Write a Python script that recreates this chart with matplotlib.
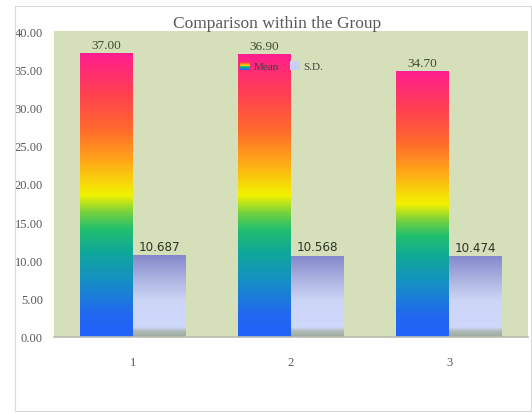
"""Grouped bar chart: group means and standard deviations with gradient fills."""

import matplotlib
matplotlib.use("Agg")
import matplotlib.pyplot as plt
import numpy as np
from matplotlib.colors import LinearSegmentedColormap
from matplotlib.legend_handler import HandlerBase
from matplotlib.patches import Rectangle

groups = ["1", "2", "3"]
mean_vals = [37.00, 36.90, 34.70]
sd_vals = [10.687, 10.568, 10.474]
mean_labels = ["37.00", "36.90", "34.70"]
sd_labels = ["10.687", "10.568", "10.474"]
y_ticks = [0, 5, 10, 15, 20, 25, 30, 35, 40]

plt.rcParams.update({
    "font.family": ["Liberation Serif", "DejaVu Serif"],
    "font.size": 9,
})

# bottom -> top colour stops for each series
MEAN_CMAP = LinearSegmentedColormap.from_list("mean_rainbow", [
    (0.00, "#2262fa"), (0.08, "#2168f0"), (0.20, "#1590c4"),
    (0.30, "#0fa898"), (0.38, "#22bf6e"), (0.44, "#78d23e"),
    (0.50, "#f2f200"), (0.62, "#ffa818"), (0.73, "#ff6a2c"),
    (0.86, "#ff4052"), (1.00, "#ff1e8e"),
])
SD_CMAP = LinearSegmentedColormap.from_list("sd_lavender", [
    (0.00, "#9eaa9e"), (0.07, "#b0bab8"), (0.12, "#cfd9fc"),
    (0.45, "#ccd5f6"), (0.70, "#aeb4e2"), (1.00, "#8489cc"),
])
BG = "#d5e0bb"
TEXT = "#595959"


class GradientHandler(HandlerBase):
    """Legend key filled with horizontal stripes from a colormap."""

    def __init__(self, cmap, n=12):
        super().__init__()
        self.cmap = cmap
        self.n = n

    def create_artists(self, legend, orig_handle, xdescent, ydescent,
                       width, height, fontsize, trans):
        side = min(width, height)
        x0 = -xdescent + (width - side) / 2
        y0 = -ydescent + (height - side) / 2
        step = side / self.n
        arts = []
        for i in range(self.n):
            r = Rectangle((x0, y0 + i * step), side, step * 1.05,
                          facecolor=self.cmap((i + 0.5) / self.n),
                          edgecolor="none", transform=trans)
            arts.append(r)
        return arts


fig = plt.figure(figsize=(5.32, 4.14), dpi=100)
ax = fig.add_axes([0.1015, 0.1836, 0.891, 0.7391])
ax.set_facecolor(BG)

# outer chart frame
fig.patches.append(Rectangle((15 / 532, 2 / 414), 516 / 532, 405 / 414,
                             transform=fig.transFigure, fill=False,
                             edgecolor="#d9d9d9", linewidth=0.8))

x = np.arange(len(groups))
w = 0.335
mean_bars = ax.bar(x - w / 2, mean_vals, w, color="none", zorder=1)
sd_bars = ax.bar(x + w / 2, sd_vals, w, color="none", zorder=1)

grad = np.linspace(0, 1, 256).reshape(-1, 1)
for bars, cmap in ((mean_bars, MEAN_CMAP), (sd_bars, SD_CMAP)):
    for r in bars:
        ax.imshow(grad, cmap=cmap, origin="lower", aspect="auto",
                  extent=(r.get_x(), r.get_x() + r.get_width(), 0, r.get_height()),
                  zorder=2, interpolation="bilinear")

for r, lab in zip(mean_bars, mean_labels):
    ax.text(r.get_x() + r.get_width() / 2, r.get_height() + 0.35, lab,
            ha="center", va="bottom", fontsize=9.5, color="#3f4a30", zorder=4)
for r, lab in zip(sd_bars, sd_labels):
    ax.text(r.get_x() + r.get_width() / 2, r.get_height() + 0.35, lab,
            ha="center", va="bottom", fontsize=9.5, color="#2c3424", zorder=4,
            family=["DejaVu Sans"], fontstretch="condensed")

ax.set_xlim(-0.5, 2.5)
ax.set_ylim(0, 40)
ax.set_yticks(y_ticks)
ax.set_yticklabels([f"{v:.2f}" for v in y_ticks])
ax.set_xticks(x)
ax.set_xticklabels(groups)
ax.tick_params(length=0, colors=TEXT, labelsize=9)
ax.tick_params(axis="y", pad=8)
ax.tick_params(axis="x", pad=14)
for s in ("top", "right", "left"):
    ax.spines[s].set_visible(False)
ax.spines["bottom"].set_color("#b8bcb0")
ax.spines["bottom"].set_linewidth(1.2)

fig.text(0.521, 0.942, "Comparison within the Group", ha="center",
         va="center", fontsize=12.5, color=TEXT)

h_mean = Rectangle((0, 0), 1, 1)
h_sd = Rectangle((0, 0), 1, 1, facecolor="#c8d0f2")
ax.legend([h_mean, h_sd], ["Mean", "S.D."], ncol=2, frameon=False,
          handler_map={h_mean: GradientHandler(MEAN_CMAP)},
          loc="upper left", bbox_to_anchor=(230 / 532, 1 - 52 / 414),
          bbox_transform=fig.transFigure, fontsize=8, handlelength=0.9,
          handleheight=0.9, handletextpad=0.3, columnspacing=1.0,
          labelcolor="#404040")

fig.savefig("out.png", dpi=100)
